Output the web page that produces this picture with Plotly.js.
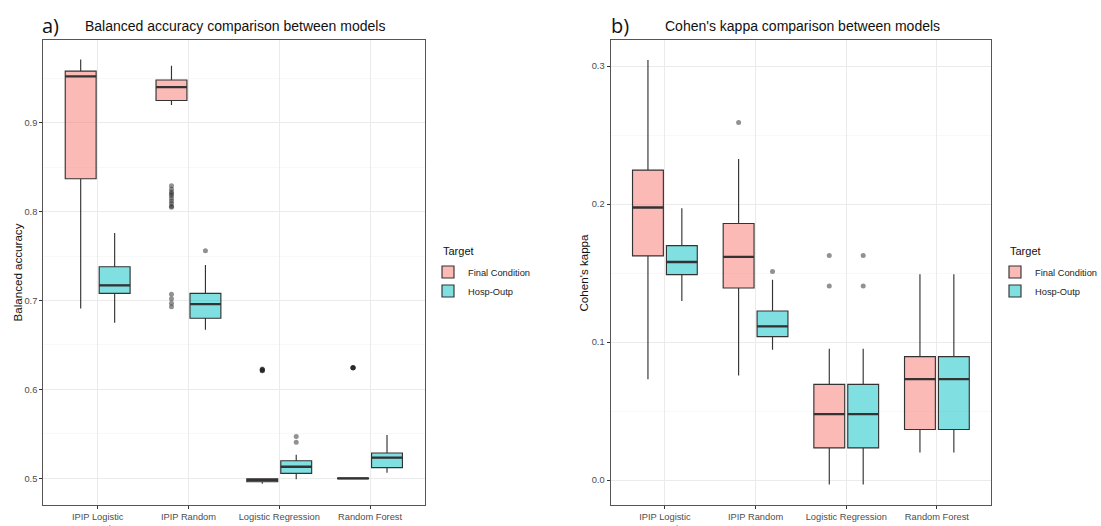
<!DOCTYPE html>
<html>
<head>
<meta charset="utf-8">
<script src="https://cdn.plot.ly/plotly-3.0.1.min.js"></script>
<style>html,body{margin:0;padding:0;background:#fff;}#chart{width:1101px;height:526px;}</style>
</head>
<body>
<div id="chart"></div>
<script>
// ---- Data ----
const categories = ['IPIP Logistic Regression', 'IPIP Random Forest', 'Logistic Regression', 'Random Forest'];
const tickLabels = ['IPIP Logistic<br>Regression', 'IPIP Random<br>Forest', 'Logistic Regression', 'Random Forest'];
const targets = ['Final Condition', 'Hosp-Outp'];

// Balanced accuracy - Final Condition
const baFinalLower  = [0.691, 0.920, 0.4938, 0.4995];
const baFinalQ1     = [0.837, 0.925, 0.4962, 0.4997];
const baFinalMedian = [0.952, 0.940, 0.4980, 0.5000];
const baFinalQ3     = [0.958, 0.948, 0.4994, 0.5003];
const baFinalUpper  = [0.971, 0.964, 0.4996, 0.5005];
const baFinalOutliers = [[], [0.829, 0.825, 0.822, 0.820, 0.818, 0.815, 0.812, 0.809, 0.806, 0.805, 0.707, 0.702, 0.697, 0.693], [0.622, 0.622, 0.621, 0.623, 0.622, 0.621], [0.6245, 0.6245, 0.6245, 0.6245, 0.6245]];

// Balanced accuracy - Hosp-Outp
const baHospLower  = [0.675, 0.667, 0.4989, 0.5063];
const baHospQ1     = [0.708, 0.680, 0.5056, 0.5120];
const baHospMedian = [0.717, 0.696, 0.5130, 0.5232];
const baHospQ3     = [0.738, 0.708, 0.5198, 0.5285];
const baHospUpper  = [0.776, 0.740, 0.5266, 0.5487];
const baHospOutliers = [[], [0.756], [0.547, 0.5405], []];

// Cohen's kappa - Final Condition
const kFinalLower  = [0.0732, 0.0759, -0.0032, 0.0200];
const kFinalQ1     = [0.1625, 0.1393, 0.0234, 0.0367];
const kFinalMedian = [0.1976, 0.1618, 0.0478, 0.0732];
const kFinalQ3     = [0.2247, 0.1860, 0.0694, 0.0895];
const kFinalUpper  = [0.3045, 0.2327, 0.0953, 0.1492];
const kFinalOutliers = [[], [0.2593], [0.1628, 0.1407], []];

// Cohen's kappa - Hosp-Outp
const kHospLower  = [0.1298, 0.0946, -0.0032, 0.0200];
const kHospQ1     = [0.1490, 0.1040, 0.0234, 0.0367];
const kHospMedian = [0.1581, 0.1115, 0.0478, 0.0732];
const kHospQ3     = [0.1700, 0.1226, 0.0694, 0.0895];
const kHospUpper  = [0.1971, 0.1453, 0.0953, 0.1492];
const kHospOutliers = [[], [0.1512], [0.1628, 0.1407], []];

const baTicks = [0.5, 0.6, 0.7, 0.8, 0.9];
const kTicks = [0.0, 0.1, 0.2, 0.3];

// ---- Styles ----
const fillFinal = 'rgba(248,118,109,0.5)';
const fillHosp = 'rgba(0,191,196,0.5)';
const lineCol = '#333333';
const FONT = 'Liberation Sans, Arial, sans-serif';

function box(name, group, q1, med, q3, lo, hi, outs, fill, xa, ya, legend) {
  // empty outlier lists become [null] so Plotly keeps the 2-D sample layout
  const pts = outs.map(function (a) { return a.length ? a : [null]; });
  return {
    type: 'box', name: name, orientation: 'v', offsetgroup: group,
    x: categories, y: pts,
    q1: q1, median: med, q3: q3, lowerfence: lo, upperfence: hi,
    boxpoints: 'outliers', jitter: 0, pointpos: 0,
    fillcolor: fill, whiskerwidth: 0,
    line: {color: lineCol, width: 1.15},
    marker: {color: 'rgba(35,35,35,0.5)', size: 5, line: {width: 0}},
    xaxis: xa, yaxis: ya, legend: legend, hoverinfo: 'y'
  };
}
// thick median bar (ggplot draws the median heavier than the box outline)
function medianBar(group, med, xa, ya) {
  return {
    type: 'box', orientation: 'v', offsetgroup: group, showlegend: false,
    x: categories, q1: med, median: med, q3: med, lowerfence: med, upperfence: med,
    boxpoints: false, fillcolor: 'rgba(0,0,0,0)', whiskerwidth: 0,
    line: {color: '#333333', width: 2.3},
    xaxis: xa, yaxis: ya, hoverinfo: 'skip'
  };
}

const data = [
  box(targets[0], 'final', baFinalQ1, baFinalMedian, baFinalQ3, baFinalLower, baFinalUpper, baFinalOutliers, fillFinal, 'x', 'y', 'legend'),
  box(targets[1], 'hosp', baHospQ1, baHospMedian, baHospQ3, baHospLower, baHospUpper, baHospOutliers, fillHosp, 'x', 'y', 'legend'),
  box(targets[0], 'final', kFinalQ1, kFinalMedian, kFinalQ3, kFinalLower, kFinalUpper, kFinalOutliers, fillFinal, 'x2', 'y2', 'legend2'),
  box(targets[1], 'hosp', kHospQ1, kHospMedian, kHospQ3, kHospLower, kHospUpper, kHospOutliers, fillHosp, 'x2', 'y2', 'legend2'),
  medianBar('final', baFinalMedian, 'x', 'y'),
  medianBar('hosp', baHospMedian, 'x', 'y'),
  medianBar('final', kFinalMedian, 'x2', 'y2'),
  medianBar('hosp', kHospMedian, 'x2', 'y2')
];

const W = 1101, H = 526;
const tickFont = {family: FONT, size: 9.3, color: '#4D4D4D'};

function xAxis(domain, anchor) {
  return {
    domain: domain, anchor: anchor, type: 'category',
    range: [-0.6, 3.6], tickvals: categories, ticktext: tickLabels,
    showgrid: true, gridcolor: '#EBEBEB', gridwidth: 1,
    ticks: 'outside', ticklen: 3, tickcolor: '#333', tickwidth: 1,
    tickfont: tickFont, showline: true, mirror: true, linecolor: '#555', linewidth: 1,
    zeroline: false, fixedrange: true, automargin: false
  };
}
function yAxis(domain, anchor, range, tickvals) {
  return {
    domain: domain, anchor: anchor, range: range,
    tickvals: tickvals, tickformat: '.1f',
    showgrid: true, gridcolor: '#EBEBEB', gridwidth: 1,
    minor: {dtick: 0.05, showgrid: true, gridcolor: '#F4F4F4', gridwidth: 0.6, ticks: ''},
    ticks: 'outside', ticklen: 3, tickcolor: '#333', tickwidth: 1,
    tickfont: tickFont, showline: true, mirror: true, linecolor: '#555', linewidth: 1,
    zeroline: false, fixedrange: true, automargin: false
  };
}

const yDom = [(H - 505) / H, (H - 40) / H];

function legendBox(xpx) {
  return {
    x: xpx / W, xanchor: 'left', y: 1 - 257.5 / H, yanchor: 'top',
    font: {family: FONT, size: 9.3, color: '#222'},
    bgcolor: 'rgba(0,0,0,0)', tracegroupgap: 0, itemwidth: 30
  };
}

const layout = {
  width: W, height: H,
  margin: {l: 0, r: 0, t: 0, b: 0, pad: 0, autoexpand: false},
  paper_bgcolor: '#fff', plot_bgcolor: '#fff',
  font: {family: FONT, color: '#222'},
  boxmode: 'group', boxgap: 0.252, boxgroupgap: 0.09,
  xaxis: xAxis([43.2 / W, 424.5 / W], 'y'),
  yaxis: yAxis(yDom, 'x', [0.470, 0.993], baTicks),
  xaxis2: xAxis([610.5 / W, 991.3 / W], 'y2'),
  yaxis2: yAxis(yDom, 'x2', [-0.018, 0.319], kTicks),
  legend: legendBox(428),
  legend2: legendBox(995),
  annotations: [
    {text: 'a)', xref: 'paper', yref: 'paper', x: 40 / W, y: 1 - 25 / H, xanchor: 'left', yanchor: 'middle', showarrow: false, font: {family: 'Open Sans, sans-serif', size: 20, color: '#111'}},
    {text: 'Balanced accuracy comparison between models', xref: 'paper', yref: 'paper', x: 83 / W, y: 1 - 26 / H, xanchor: 'left', yanchor: 'middle', showarrow: false, font: {family: FONT, size: 14, color: '#111'}},
    {text: 'b)', xref: 'paper', yref: 'paper', x: 609 / W, y: 1 - 25 / H, xanchor: 'left', yanchor: 'middle', showarrow: false, font: {family: 'Open Sans, sans-serif', size: 20, color: '#111'}},
    {text: "Cohen's kappa comparison between models", xref: 'paper', yref: 'paper', x: 663 / W, y: 1 - 26 / H, xanchor: 'left', yanchor: 'middle', showarrow: false, font: {family: FONT, size: 14, color: '#111'}},
    {text: 'Balanced accuracy', xref: 'paper', yref: 'paper', x: 17 / W, y: 1 - 272.5 / H, xanchor: 'center', yanchor: 'middle', textangle: -90, showarrow: false, font: {family: FONT, size: 11.6, color: '#111'}},
    {text: "Cohen's kappa", xref: 'paper', yref: 'paper', x: 583 / W, y: 1 - 272.5 / H, xanchor: 'center', yanchor: 'middle', textangle: -90, showarrow: false, font: {family: FONT, size: 11.6, color: '#111'}},
    {text: 'Target', xref: 'paper', yref: 'paper', x: 441 / W, y: 1 - 251 / H, xanchor: 'left', yanchor: 'middle', showarrow: false, font: {family: FONT, size: 11, color: '#111'}},
    {text: 'Target', xref: 'paper', yref: 'paper', x: 1008 / W, y: 1 - 251 / H, xanchor: 'left', yanchor: 'middle', showarrow: false, font: {family: FONT, size: 11, color: '#111'}}
  ],
  showlegend: true
};

Plotly.newPlot('chart', data, layout, {staticPlot: true, displayModeBar: false});
</script>
</body>
</html>
